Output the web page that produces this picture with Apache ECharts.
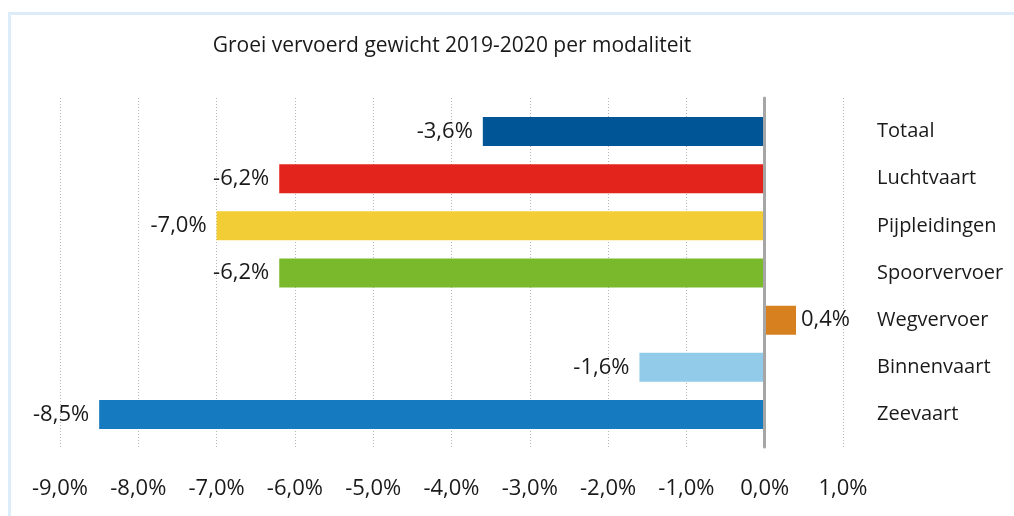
<!DOCTYPE html>
<html>
<head>
<meta charset="utf-8">
<script src="https://cdn.jsdelivr.net/npm/echarts@6/dist/echarts.min.js"></script>
<style>
  html, body { margin: 0; padding: 0; background: #fff; }
  #chart { width: 1014px; height: 516px; }
</style>
</head>
<body>
<div id="chart"></div>
<script>
// modaliteiten, van boven naar beneden
const categories = ['Totaal', 'Luchtvaart', 'Pijpleidingen', 'Spoorvervoer', 'Wegvervoer', 'Binnenvaart', 'Zeevaart']
// groei vervoerd gewicht 2019-2020 (%)
const growth = [-3.6, -6.2, -7.0, -6.2, 0.4, -1.6, -8.5]
const barColors = ['#005596', '#e3241d', '#f3cd36', '#79b92b', '#d6801f', '#92cbe9', '#167ac0']

const axisMin = -9
const axisMax = 1

const fmt = (v) => v.toFixed(1).replace('.', ',') + '%'
const font = '"Open Sans", "Noto Sans", sans-serif'

const chart = echarts.init(document.getElementById('chart'))

const option = {
  animation: false,
  title: {
    text: 'Groei vervoerd gewicht 2019-2020 per modaliteit',
    left: 447,
    textAlign: 'center',
    top: 31,
    textStyle: { fontFamily: font, fontSize: 21, fontWeight: 'normal', color: '#1a1a1a' }
  },
  graphic: [
    { type: 'rect', shape: { x: 8, y: 12, width: 1006, height: 3 }, style: { fill: '#dcecf8' } },
    { type: 'rect', shape: { x: 8, y: 12, width: 3, height: 504 }, style: { fill: '#dcecf8' } }
  ],
  grid: [
    // balken
    { left: 60, right: 171, top: 108, height: 330 },
    // rasterlijnen, nul-as en aslabels
    { left: 60, right: 171, top: 98, height: 349 }
  ],
  xAxis: [
    { gridIndex: 0, type: 'value', min: axisMin, max: axisMax, show: false },
    {
      gridIndex: 1,
      type: 'value',
      min: axisMin,
      max: axisMax,
      interval: 1,
      axisLine: { show: false },
      axisTick: { show: false },
      splitLine: { show: true, lineStyle: { type: [1, 2], color: '#b5b5b5', width: 1 } },
      axisLabel: { formatter: fmt, fontFamily: font, fontSize: 22, color: '#1a1a1a', margin: 31 }
    }
  ],
  yAxis: [
    {
      gridIndex: 0,
      type: 'category',
      data: categories,
      inverse: true,
      position: 'right',
      axisLine: { show: false },
      axisTick: { show: false },
      axisLabel: { margin: 34, fontFamily: font, fontSize: 20, color: '#1a1a1a' }
    },
    {
      gridIndex: 1,
      type: 'value',
      min: 0,
      max: 1,
      z: 5,
      axisLine: { show: true, onZero: true, lineStyle: { color: '#a6a6a6', width: 3 } },
      axisTick: { show: false },
      axisLabel: { show: false },
      splitLine: { show: false }
    }
  ],
  series: [
    {
      type: 'bar',
      xAxisIndex: 0,
      yAxisIndex: 0,
      barWidth: 29,
      data: growth.map((v, i) => ({
        value: v,
        itemStyle: { color: barColors[i] },
        label: { position: v < 0 ? 'left' : 'right', distance: v < 0 ? 10 : 5 }
      })),
      label: {
        show: true,
        formatter: (p) => fmt(p.value),
        fontFamily: font,
        fontSize: 22,
        color: '#1a1a1a'
      }
    }
  ]
}

chart.setOption(option)
</script>
</body>
</html>
